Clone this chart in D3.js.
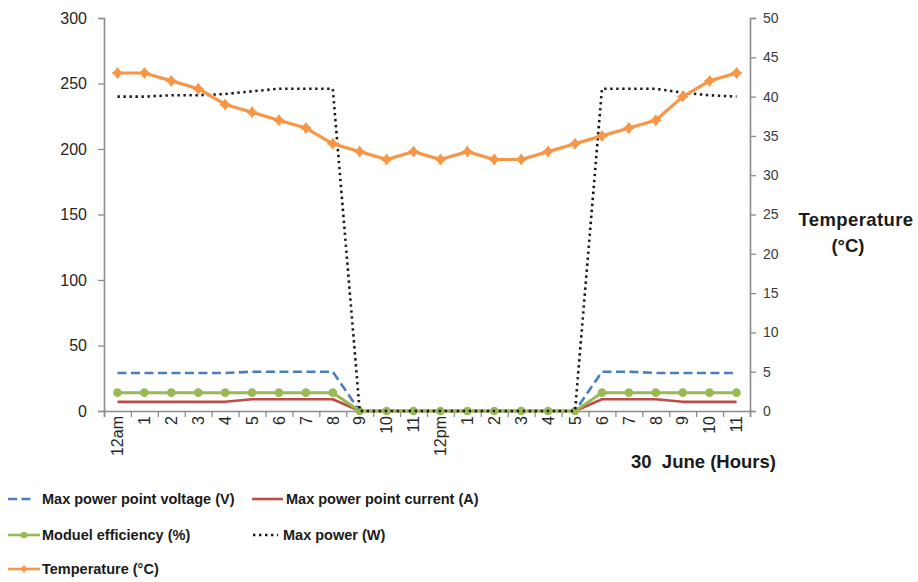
<!DOCTYPE html>
<html>
<head>
<meta charset="utf-8">
<script src="https://cdn.jsdelivr.net/npm/d3@7/dist/d3.min.js"></script>
<style>
  html, body { margin: 0; padding: 0; background: #ffffff; }
  svg { display: block; }
  text { font-family: "Liberation Sans", Arial, sans-serif; }
</style>
</head>
<body>
<svg id="chart" width="918" height="582"></svg>
<script>
// ---------------- data ----------------
const hours = ["12am","1","2","3","4","5","6","7","8","9","10","11",
               "12pm","1","2","3","4","5","6","7","8","9","10","11"];
const voltage     = [29,29,29,29,29,30,30,30,30, 0,0,0,0,0,0,0,0,0, 30,30,29,29,29,29];
const current     = [7,7,7,7,7,9,9,9,9, 0,0,0,0,0,0,0,0,0, 9,9,9,7,7,7];
const efficiency  = [14,14,14,14,14,14,14,14,14, 0,0,0,0,0,0,0,0,0, 14,14,14,14,14,14];
const maxPower    = [240,240,241,241,242,244,246,246,246, 0,0,0,0,0,0,0,0,0, 246,246,246,243,241,240];
const temperature = [43,43,42,41,39,38,37,36,34,33,32,33,32,33,32,32,33,34,35,36,37,40,42,43];
const leftTicks  = [0,50,100,150,200,250,300];
const rightTicks = [0,5,10,15,20,25,30,35,40,45,50];
const xTitle = "30  June (Hours)";
const rightTitle = ["Temperature", "(°C)"];
const legendItems = [
  {key:"voltage", label:"Max power point voltage (V)"},
  {key:"current", label:"Max power point current (A)"},
  {key:"efficiency", label:"Moduel efficiency (%)"},
  {key:"power", label:"Max power (W)"},
  {key:"temp", label:"Temperature (°C)"}
];

// ---------------- layout ----------------
const svg = d3.select("#chart");
const L = 104, R = 750, T = 18, B = 411;
const idx = d3.range(hours.length);
const x = d3.scaleBand().domain(idx).range([L, R]).padding(0);
const xb = d3.scaleLinear().domain([0, hours.length]).range([L, R]);
const cx = i => x(i) + x.bandwidth() / 2;
const yL = d3.scaleLinear().domain([0, 300]).range([B, T]);
const yR = d3.scaleLinear().domain([0, 50]).range([B, T]);

const axisGray = "#8c8c8c";
const styles = {
  voltage:    {color:"#4A7EBB", width:2.6, dash:"9,4.5"},
  current:    {color:"#BE4B48", width:2.6, dash:null},
  efficiency: {color:"#98B954", width:3,   dash:null},
  power:      {color:"#1a1a1a", width:2.6, dash:"2.4,3.6"},
  temp:       {color:"#F79646", width:3.2, dash:null}
};

// ---------------- axes ----------------
const gL = svg.append("g").attr("transform", `translate(${L},0)`)
  .call(d3.axisLeft(yL).tickValues(leftTicks).tickSize(6).tickPadding(11).tickFormat(d3.format("d")));
gL.select(".domain").attr("stroke", axisGray).attr("stroke-width", 1.6);
gL.selectAll(".tick line").attr("stroke", axisGray).attr("stroke-width", 1.3);
gL.selectAll(".tick text").attr("fill", "#262626").style("font-size", "16px");

const gR = svg.append("g").attr("transform", `translate(${R},0)`)
  .call(d3.axisRight(yR).tickValues(rightTicks).tickSize(6).tickPadding(7).tickFormat(d3.format("d")));
gR.select(".domain").attr("stroke", axisGray).attr("stroke-width", 1.6);
gR.selectAll(".tick line").attr("stroke", axisGray).attr("stroke-width", 1.3);
gR.selectAll(".tick text").attr("fill", "#3a3a3a").style("font-size", "14px");

// x axis boundary ticks
const gXb = svg.append("g").attr("transform", `translate(0,${B})`)
  .call(d3.axisBottom(xb).tickValues(d3.range(hours.length + 1)).tickSize(6).tickFormat(""));
gXb.select(".domain").attr("stroke", axisGray).attr("stroke-width", 1.6);
gXb.selectAll(".tick line").attr("stroke", axisGray).attr("stroke-width", 1.3);

// x axis labels (rotated)
const gX = svg.append("g").attr("transform", `translate(0,${B})`)
  .call(d3.axisBottom(x).tickSize(0).tickFormat(i => hours[i]));
gX.select(".domain").remove();
gX.selectAll(".tick text")
  .attr("transform", "rotate(-90)")
  .attr("text-anchor", "end")
  .attr("x", -5).attr("y", 0).attr("dy", "0.36em")
  .attr("fill", "#262626").style("font-size", "16px");

// axis titles
svg.append("text").attr("x", 631).attr("y", 468)
  .style("font-size", "18.5px").style("font-weight", "bold").attr("fill", "#1a1a1a")
  .style("white-space", "pre").text(xTitle);
svg.append("text").attr("x", 856).attr("y", 226).attr("text-anchor", "middle")
  .style("font-size", "18.5px").style("font-weight", "bold").attr("fill", "#1a1a1a")
  .style("letter-spacing", "0.4px").text(rightTitle[0]);
svg.append("text").attr("x", 848).attr("y", 252).attr("text-anchor", "middle")
  .style("font-size", "18.5px").style("font-weight", "bold").attr("fill", "#1a1a1a")
  .text(rightTitle[1]);

// ---------------- series ----------------
const plot = svg.append("g");
function drawLine(values, scale, st) {
  const line = d3.line().x((d, i) => cx(i)).y(d => scale(d));
  plot.append("path").datum(values)
    .attr("fill", "none").attr("stroke", st.color).attr("stroke-width", st.width)
    .attr("stroke-dasharray", st.dash).attr("stroke-linejoin", "round")
    .attr("d", line);
}
drawLine(voltage, yL, styles.voltage);
drawLine(current, yL, styles.current);
drawLine(efficiency, yL, styles.efficiency);
plot.append("g").selectAll("circle").data(efficiency).join("circle")
  .attr("cx", (d, i) => cx(i)).attr("cy", d => yL(d)).attr("r", 4.3)
  .attr("fill", styles.efficiency.color);
drawLine(maxPower, yL, styles.power);
drawLine(temperature, yR, styles.temp);
const diamond = "M0,-6L2.8,-2.2L6,0L2.8,2.2L0,6L-2.8,2.2L-6,0L-2.8,-2.2Z";
plot.append("g").selectAll("path").data(temperature).join("path")
  .attr("transform", (d, i) => `translate(${cx(i)},${yR(d)})`)
  .attr("d", diamond).attr("fill", styles.temp.color);

// ---------------- legend ----------------
const legPos = [
  {sx:8,   sw:26, tx:42,  y:499},
  {sx:252, sw:31, tx:286, y:499},
  {sx:8,   sw:32, tx:42,  y:535},
  {sx:253, sw:25, tx:283, y:535},
  {sx:8,   sw:32, tx:42,  y:569}
];
const legend = svg.append("g");
legendItems.forEach((it, k) => {
  const p = legPos[k], st = styles[it.key];
  legend.append("line").attr("x1", p.sx).attr("x2", p.sx + p.sw)
    .attr("y1", p.y).attr("y2", p.y)
    .attr("stroke", st.color).attr("stroke-width", it.key === "temp" || it.key === "efficiency" ? 2.6 : st.width)
    .attr("stroke-dasharray", st.dash);
  if (it.key === "efficiency") {
    legend.append("circle").attr("cx", p.sx + p.sw / 2).attr("cy", p.y).attr("r", 3.3).attr("fill", st.color);
  }
  if (it.key === "temp") {
    legend.append("path").attr("transform", `translate(${p.sx + p.sw / 2},${p.y}) scale(0.7)`)
      .attr("d", diamond).attr("fill", st.color);
  }
  legend.append("text").attr("x", p.tx).attr("y", p.y).attr("dy", "0.36em")
    .style("font-size", "14.5px").style("font-weight", "bold").attr("fill", "#1a1a1a")
    .text(it.label);
});
</script>
</body>
</html>
